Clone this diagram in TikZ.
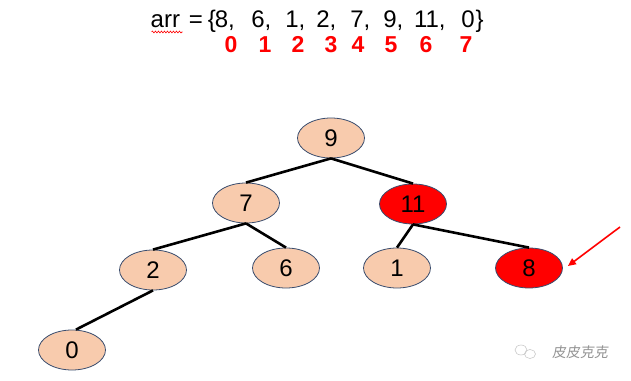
\documentclass[tikz,border=0pt]{standalone}
\usepackage{fontspec}
\setmainfont{Liberation Sans}
\newfontfamily\cjkwm[FakeSlant=0.15]{Noto Sans CJK SC}
\usetikzlibrary{shapes.geometric,arrows.meta,decorations.pathmorphing}
\definecolor{peach}{HTML}{F8CBAD}
\definecolor{rimblue}{HTML}{3A4D6E}
\begin{document}
\begin{tikzpicture}[x=1pt,y=1pt,
  heapnode/.style={ellipse,draw=rimblue,line width=0.8pt,fill=peach,
    minimum width=67pt,minimum height=40pt,inner sep=0pt,
    font=\fontsize{24}{26}\selectfont},
  hot/.style={heapnode,fill=red},
  edge/.style={line width=2.6pt,black},
  arrtxt/.style={anchor=base,inner sep=0pt,font=\fontsize{24}{26}\selectfont},
  idxtxt/.style={anchor=base,inner sep=0pt,text=red,font=\fontsize{23}{25}\selectfont\bfseries}]
\useasboundingbox (0,0) rectangle (631,380);
\fill[white] (0,0) rectangle (631,380);
% array line
\node[arrtxt,anchor=base west] (arr) at (150.5,352) {arr};
\draw[red,line width=0.6pt,decorate,decoration={snake,amplitude=0.9pt,segment length=3pt}]
  (arr.base west) ++(1,-4) coordinate (sqa) -- ++(31,0) coordinate (sqb);
\node[arrtxt] (eq) at (196,352) {=};
\node[arrtxt] (lb) at (212,352) {\{};
\node[arrtxt] (a0) at (221.5,352) {8\rlap{,}};
\node[arrtxt] (a1) at (258,352) {6\rlap{,}};
\node[arrtxt] (a2) at (292,352) {1\rlap{,}};
\node[arrtxt] (a3) at (323,352) {2\rlap{,}};
\node[arrtxt] (a4) at (357,352) {7\rlap{,}};
\node[arrtxt] (a5) at (390,352) {9\rlap{,}};
\node[arrtxt] (a6) at (426.5,352) {11\rlap{,}};
\node[arrtxt] (a7) at (468,352) {0};
\node[arrtxt] (rb) at (479.5,352) {\}};
% indices
\node[idxtxt] (i0) at (231,327) {0};
\node[idxtxt] (i1) at (265,327) {1};
\node[idxtxt] (i2) at (298,327) {2};
\node[idxtxt] (i3) at (331,327) {3};
\node[idxtxt] (i4) at (358,327) {4};
\node[idxtxt] (i5) at (391,327) {5};
\node[idxtxt] (i6) at (426,327) {6};
\node[idxtxt] (i7) at (466,327) {7};
% tree
\node[heapnode] (n9) at (331,242) {9};
\node[heapnode] (n7) at (246,177) {7};
\node[hot] (n11) at (413,176) {11};
\node[heapnode] (n2) at (153,110) {2};
\node[heapnode] (n6) at (286,112) {6};
\node[heapnode] (n1) at (397,112) {1};
\node[hot] (n8) at (529,112) {8};
\node[heapnode] (n0) at (72,30) {0};
\draw[edge] (n9.south) -- (n7.north);
\draw[edge] (n9.south) -- (n11.north);
\draw[edge] (n7.south) -- (n2.north);
\draw[edge] (n7.south) -- (n6.north);
\draw[edge] (n11.south) -- (n1.north);
\draw[edge] (n11.south) -- (n8.north);
\draw[edge] (n2.south) -- ([xshift=4pt]n0.north);
% pointer arrow
\coordinate (arrstart) at (620,153);
\draw[red,line width=1.6pt,-{Triangle[length=8pt,width=7pt]}] (arrstart) -- ([xshift=5pt,yshift=2pt]n8.east);
% watermark
\draw[gray!45,line width=0.5pt] (521,30) ellipse (6pt and 5pt);
\draw[gray!45,line width=0.5pt] (530,26) ellipse (5.5pt and 4.5pt);
\node[inner sep=0pt,text=gray!85,font=\cjkwm\fontsize{14}{15}\selectfont] (wm) at (580,28) {皮皮克克};
\end{tikzpicture}
\end{document}
